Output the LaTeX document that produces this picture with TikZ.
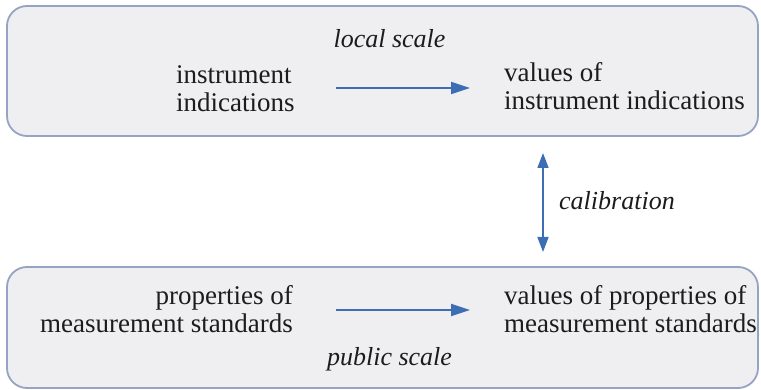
\documentclass[tikz,border=0pt]{standalone}
\usepackage{fontspec}
\setmainfont{Liberation Serif}
\usetikzlibrary{arrows.meta}
\definecolor{boxfill}{HTML}{EFEFF1}
\definecolor{boxline}{HTML}{97A3C2}
\definecolor{arrowblue}{HTML}{3D6DB3}
\definecolor{txt}{HTML}{1C1C1C}
\tikzset{
  panel/.style={draw=boxline, fill=boxfill, line width=1.8pt, rounded corners=20pt},
  body/.style={font=\fontsize{27}{28}\selectfont, text=txt, inner sep=0pt, align=left},
  bodyr/.style={font=\fontsize{27}{28}\selectfont, text=txt, inner sep=0pt, align=right},
  lab/.style={font=\fontsize{26}{28}\selectfont\itshape, text=txt, inner sep=0pt},
  flow/.style={draw=arrowblue, line width=1.8pt, -{Triangle[length=19pt,width=12pt]}},
  calib/.style={draw=arrowblue, line width=1.6pt, {Triangle[length=15pt,width=11pt]}-{Triangle[length=15pt,width=11pt]}}
}
\begin{document}
\begin{tikzpicture}[x=1pt,y=-1pt]
\useasboundingbox (0,0) rectangle (761,390);
% panels
\path[panel] (7,6) rectangle (758,136);
\path[panel] (7,267) rectangle (758,388);
% top panel texts
\node[body, anchor=base west] (ii) at (176,112) {instrument\\indications};
\node[body, anchor=base west] (vii) at (504,110) {values of\\instrument indications};
\node[lab, anchor=base] (ls) at (389.5,48) {local scale};
\coordinate (a1s) at (336,88);
\coordinate (a1e) at (470,88);
\draw[flow] (a1s) -- (a1e);
% bottom panel texts
\node[bodyr, anchor=base east] (pms) at (293,332) {properties of\\measurement standards};
\node[body, anchor=base west] (vpms) at (504,332) {values of properties of\\measurement standards};
\node[lab, anchor=base] (ps) at (389.5,366) {public scale};
\coordinate (a2s) at (336,310);
\coordinate (a2e) at (470,310);
\draw[flow] (a2s) -- (a2e);
% calibration
\coordinate (ct) at (543,153);
\coordinate (cb) at (543,252);
\draw[calib] (ct) -- (cb);
\node[lab, anchor=base west] (cal) at (559,210) {calibration};
\end{tikzpicture}
\end{document}
